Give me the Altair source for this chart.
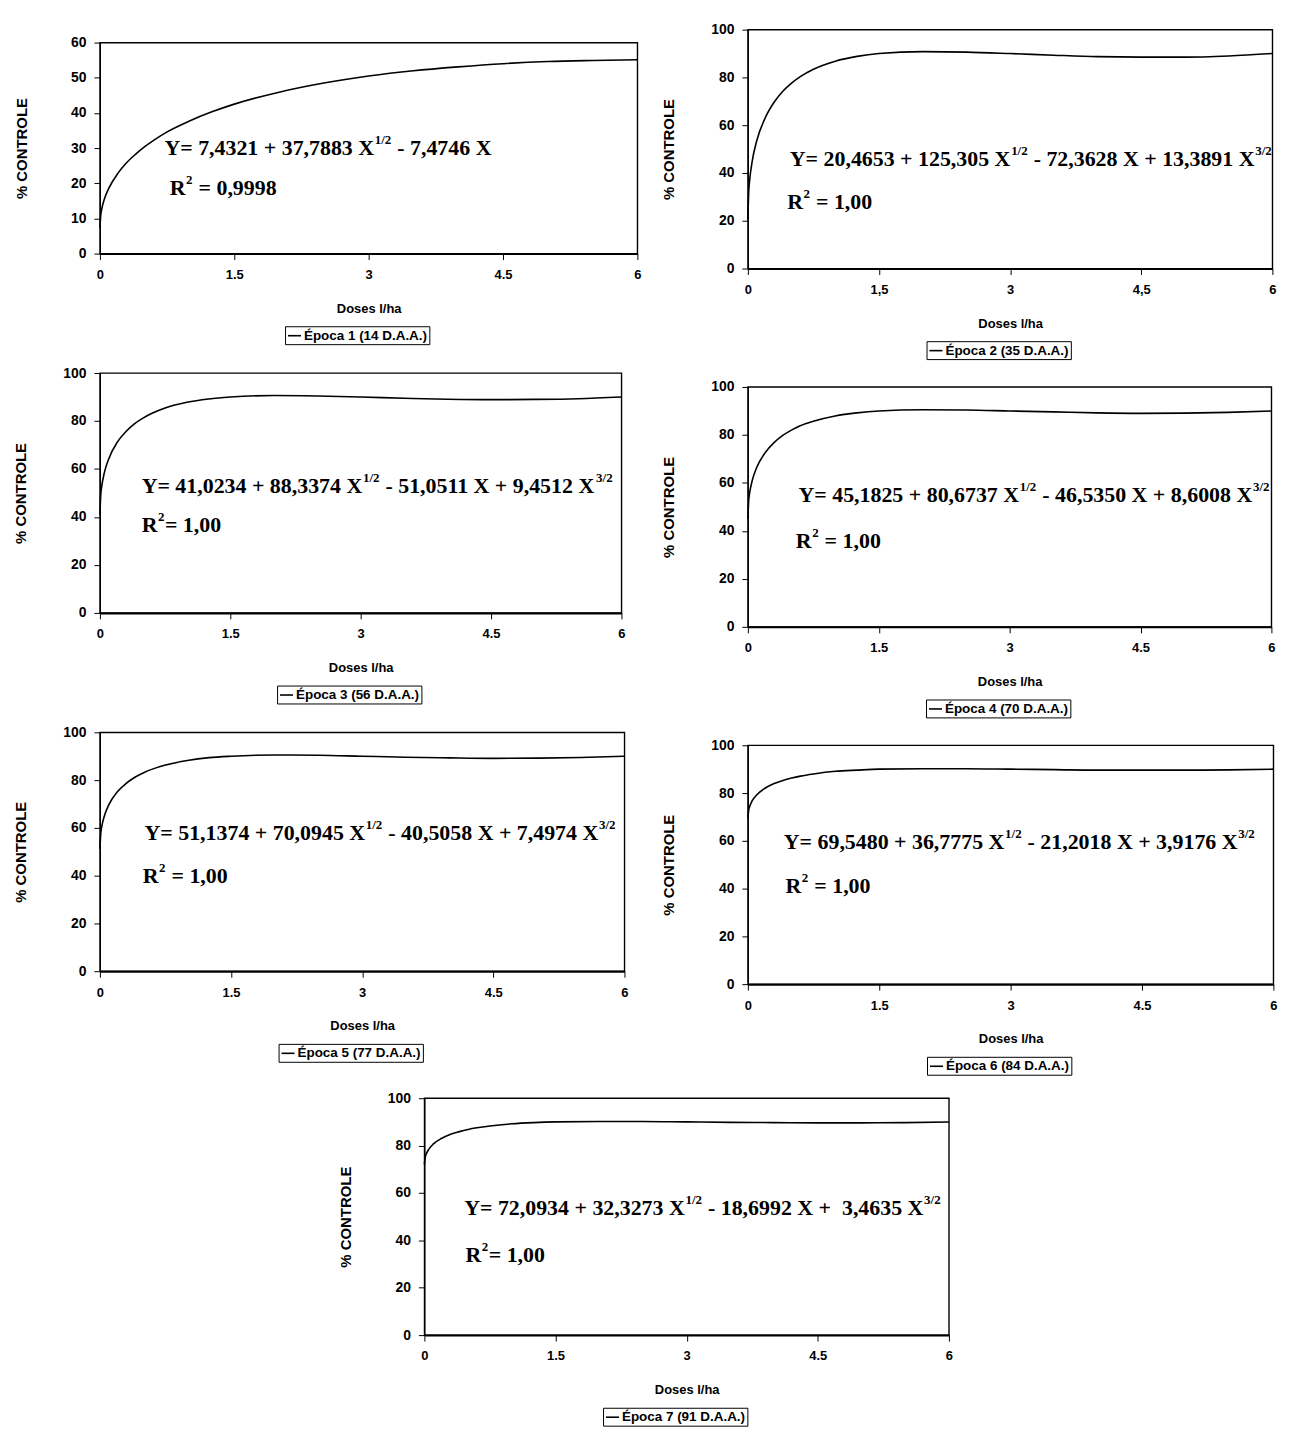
import re
import altair as alt
import pandas as pd

doses = [0, 0.01, 0.02, 0.05, 0.1, 0.2, 0.3, 0.4, 0.5, 0.6, 0.75, 1.0, 1.25, 1.5,
         2.0, 2.5, 3.0, 3.5, 4.0, 4.5, 5.0, 5.5, 6.0]

epoca1 = [7.4, 11.1, 12.6, 15.5, 18.6, 22.8, 25.9, 28.3, 30.4, 32.2, 34.6, 37.7, 40.3, 42.5,
          45.9, 48.5, 50.5, 52.0, 53.1, 54.0, 54.6, 54.9, 55.1]
epoca2 = [20.5, 32.3, 36.8, 45.0, 53.3, 63.2, 69.6, 74.2, 77.6, 80.3, 83.4, 86.8, 88.8, 90.0,
          90.8, 90.6, 90.0, 89.3, 88.7, 88.5, 88.5, 89.0, 90.0]
epoca3 = [41.0, 49.4, 52.5, 58.3, 64.1, 71.2, 75.6, 78.9, 81.3, 83.2, 85.4, 87.8, 89.2, 90.0,
          90.6, 90.4, 90.0, 89.5, 89.1, 88.9, 89.0, 89.3, 90.0]
epoca4 = [45.2, 52.8, 55.7, 61.0, 66.3, 72.7, 76.8, 79.8, 82.0, 83.8, 85.7, 87.9, 89.2, 90.0,
          90.5, 90.4, 90.0, 89.6, 89.2, 89.0, 89.1, 89.4, 90.0]
epoca5 = [51.1, 57.7, 60.3, 64.9, 69.5, 75.1, 78.6, 81.2, 83.1, 84.6, 86.3, 88.2, 89.4, 90.0,
          90.5, 90.4, 90.0, 89.6, 89.3, 89.1, 89.2, 89.5, 90.0]
epoca6 = [69.5, 73.0, 74.3, 76.8, 79.2, 82.1, 84.0, 85.3, 86.3, 87.1, 88.0, 89.1, 89.6, 90.0,
          90.2, 90.2, 90.0, 89.8, 89.6, 89.6, 89.6, 89.7, 90.0]
epoca7 = [72.1, 75.1, 76.3, 78.4, 80.6, 83.1, 84.8, 85.9, 86.8, 87.5, 88.3, 89.2, 89.7, 90.0,
          90.2, 90.2, 90.0, 89.8, 89.7, 89.6, 89.6, 89.7, 90.0]

series = [epoca1, epoca2, epoca3, epoca4, epoca5, epoca6, epoca7]

legend_labels = [
    "Época 1 (14 D.A.A.)", "Época 2 (35 D.A.A.)", "Época 3 (56 D.A.A.)",
    "Época 4 (70 D.A.A.)", "Época 5 (77 D.A.A.)", "Época 6 (84 D.A.A.)",
    "Época 7 (91 D.A.A.)",
]

# ^{...} marks a superscript
equations = [
    "Y= 7,4321 + 37,7883 X^{1/2} - 7,4746 X",
    "Y= 20,4653 + 125,305 X^{1/2} - 72,3628 X + 13,3891 X^{3/2}",
    "Y= 41,0234 + 88,3374 X^{1/2} - 51,0511 X + 9,4512 X^{3/2}",
    "Y= 45,1825 + 80,6737 X^{1/2} - 46,5350 X + 8,6008 X^{3/2}",
    "Y= 51,1374 + 70,0945 X^{1/2} - 40,5058 X + 7,4974 X^{3/2}",
    "Y= 69,5480 + 36,7775 X^{1/2} - 21,2018 X + 3,9176 X^{3/2}",
    "Y= 72,0934 + 32,3273 X^{1/2} - 18,6992 X + \u00a03,4635 X^{3/2}",
]
r2_texts = ["R^{2} = 0,9998", "R^{2} = 1,00", "R^{2}= 1,00", "R^{2} = 1,00",
            "R^{2} = 1,00", "R^{2} = 1,00", "R^{2}= 1,00"]

y_max = [60, 100, 100, 100, 100, 100, 100]
y_ticks = [[0, 10, 20, 30, 40, 50, 60]] + [[0, 20, 40, 60, 80, 100]] * 6
x_ticks = [0, 1.5, 3, 4.5, 6]
x_label_expr = ["toString(datum.value)", "replace(toString(datum.value), '.', ',')"] + ["toString(datum.value)"] * 5

# annotation anchor points (data units)
eq_pos = [(0.72, 30.0), (0.48, 46), (0.48, 53), (0.58, 55), (0.51, 58), (0.41, 59.6), (0.455, 53.8)]
r2_pos = [(0.78, 18.7), (0.45, 28), (0.48, 36.5), (0.55, 35.7), (0.49, 40), (0.43, 41), (0.47, 34)]

sizes = [(540, 212), (527, 240), (524, 241), (526, 241), (527, 240), (528, 240), (527, 238)]

SANS = "Liberation Sans"
SERIF = "Liberation Serif"
FS = 22      # equation font size
FS_SUP = 13  # superscript font size

# Times/Liberation Serif Bold advance widths (1/1000 em)
ADV = {" ": 250, "\u00a0": 250, ",": 250, "-": 333, ".": 250, "/": 278, "=": 570, "+": 570,
       "X": 722, "Y": 722, "R": 722}


def text_width(s, fs):
    return sum(ADV.get(c, 500) for c in s) * fs / 1000.0


def segments(expr):
    """Split an expression into (text, dx, is_superscript) pieces."""
    out = []
    x = 0.0
    for part in re.split(r"(\^\{[^}]*\})", expr):
        if not part:
            continue
        if part.startswith("^{"):
            sup = part[2:-1]
            out.append((sup, x + 0.5, True))
            x += text_width(sup, FS_SUP) + 1.0
        else:
            lead = len(part) - len(part.lstrip(" "))
            x += lead * 250 * FS / 1000.0
            body = part.lstrip(" ")
            if body.strip():
                out.append((body.rstrip(" "), x, False))
            x += text_width(body, FS)
    return out


def x_enc(i):
    return alt.X("dose:Q",
                 scale=alt.Scale(domain=[0, 6], nice=False, zero=False),
                 axis=alt.Axis(values=x_ticks, title="Doses l/ha", labelExpr=x_label_expr[i],
                               labelFlush=False, labelPadding=9, titlePadding=21,
                               labelFontSize=13, titleFontSize=13, domainWidth=2))


def y_enc(i):
    ytp = 41 if i == 0 else 34
    return alt.Y("controle:Q",
                 scale=alt.Scale(domain=[0, y_max[i]], nice=False),
                 axis=alt.Axis(values=y_ticks[i], title="% CONTROLE", format="d",
                               labelPadding=8, titlePadding=ytp, labelFontSize=14,
                               titleFontSize=15, domainWidth=1.2))


def text_layers(i, expr, pos):
    layers = []
    df = pd.DataFrame({"dose": [pos[0]], "controle": [pos[1]]})
    for txt, dx, sup in segments(expr):
        layers.append(
            alt.Chart(df).mark_text(
                align="left", baseline="middle", font=SERIF, fontWeight="bold",
                fontSize=FS_SUP if sup else FS, color="black",
                dx=dx, dy=-8 if sup else 0,
            ).encode(x=x_enc(i), y=y_enc(i), text=alt.value(txt))
        )
    return layers


def panel(i):
    w, h = sizes[i]
    df = pd.DataFrame({"dose": doses, "controle": series[i], "serie": legend_labels[i]})
    line = alt.Chart(df).mark_line(color="black", strokeWidth=1.6, interpolate="monotone").encode(
        x=x_enc(i),
        y=y_enc(i),
        color=alt.Color("serie:N", scale=alt.Scale(range=["black"]),
                        legend=alt.Legend(title=None, orient="none", legendX=w / 2 - 84,
                                          legendY=h + 73, symbolType="stroke",
                                          symbolStrokeWidth=1.6, symbolSize=170,
                                          strokeColor="black", padding=2,
                                          labelFont=SANS, labelFontWeight="bold",
                                          labelFontSize=13.5, labelColor="black",
                                          labelOffset=2)),
    )
    layers = [line] + text_layers(i, equations[i], eq_pos[i]) + text_layers(i, r2_texts[i], r2_pos[i])
    return alt.layer(*layers).properties(width=w, height=h)


panels = [panel(i) for i in range(7)]

left = alt.vconcat(panels[0], panels[2], panels[4], spacing=19).resolve_scale(color="independent")
right = alt.vconcat(panels[1], panels[3], panels[5], spacing=18).resolve_scale(color="independent")
top = alt.hconcat(left, right, spacing=18, center=True).resolve_scale(color="independent")

chart = alt.vconcat(top, panels[6], spacing=14, center=True).resolve_scale(
    color="independent"
).configure(
    padding={"top": 10, "left": 5, "right": 5, "bottom": 0},
    background="white",
).configure_view(
    stroke="black", strokeWidth=1.4
).configure_axis(
    labelFont=SANS, labelFontWeight="bold", labelColor="black",
    titleFont=SANS, titleFontWeight="bold", titleColor="black",
    domainColor="black", tickColor="black", tickSize=6, grid=False,
)

chart.save("out.html", embed_options={"renderer": "svg", "actions": False})
